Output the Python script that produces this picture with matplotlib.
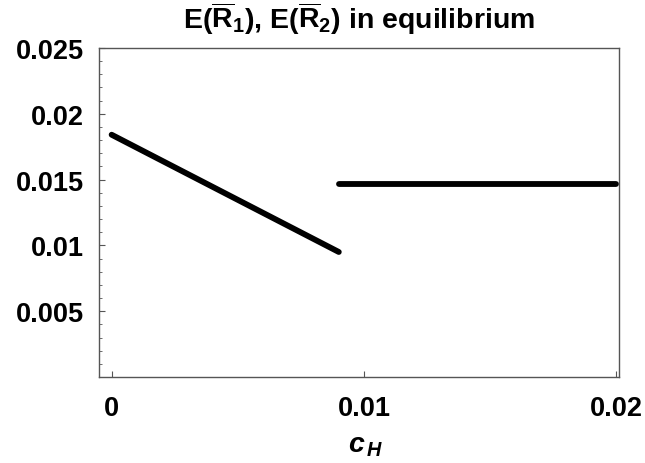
import matplotlib
matplotlib.use("Agg")
import matplotlib.pyplot as plt
from matplotlib.ticker import MultipleLocator, FixedLocator

# ==============================
# DATA
# ==============================
# branch 1: E(R1) for low c_H, branch 2: E(R2) above the switch point
branch1_c = [0.0, 0.009]
branch1_r = [0.01841, 0.0095]
branch2_c = [0.009, 0.02]
branch2_r = [0.01467, 0.01467]

x_ticks = [0.0, 0.01, 0.02]
x_tick_labels = ["0", "0.01", "0.02"]
y_ticks = [0.005, 0.01, 0.015, 0.02, 0.025]
y_tick_labels = ["0.005", "0.01", "0.015", "0.02", "0.025"]

title_text = r"E($\overline{\mathrm{R}}_{\mathrm{1}}$), E($\overline{\mathrm{R}}_{\mathrm{2}}$) in equilibrium"
xlabel_text = r"$c_{\,H}$"

# ==============================
# STYLE
# ==============================
plt.rcParams["font.family"] = ["Liberation Sans", "DejaVu Sans"]
plt.rcParams["font.weight"] = "bold"
plt.rcParams["mathtext.fontset"] = "custom"
plt.rcParams["mathtext.rm"] = "Liberation Sans:bold"
plt.rcParams["mathtext.it"] = "Liberation Sans:bold:italic"
plt.rcParams["mathtext.bf"] = "Liberation Sans:bold"

W, H = 645, 464
fig = plt.figure(figsize=(W / 100, H / 100), dpi=100)
ax = fig.add_axes([99 / W, 1 - 378 / H, (619 - 99) / W, (378 - 49) / H])

frame_col = "#555555"
for s in ax.spines.values():
    s.set_color(frame_col)
    s.set_linewidth(1.0)

ax.plot(branch1_c, branch1_r, color="black", lw=4.2, solid_capstyle="round")
ax.plot(branch2_c, branch2_r, color="black", lw=4.2, solid_capstyle="round")

ax.set_xlim(-0.0005, 0.0201)
ax.set_ylim(0, 0.025)

ax.xaxis.set_major_locator(FixedLocator(x_ticks))
ax.set_xticklabels(x_tick_labels)
ax.yaxis.set_major_locator(FixedLocator(y_ticks))
ax.set_yticklabels(y_tick_labels)
ax.yaxis.set_minor_locator(MultipleLocator(0.001))

ax.tick_params(axis="both", which="both", direction="in", color=frame_col,
               top=False, right=False, labelsize=19.5)
ax.tick_params(axis="both", which="major", length=4, width=0.8)
ax.tick_params(axis="y", which="minor", length=2.5, width=0.6)
ax.tick_params(axis="y", which="major", pad=11)
ax.tick_params(axis="x", which="major", pad=13)
for lab in ax.get_xticklabels() + ax.get_yticklabels():
    lab.set_fontweight("bold")

fig.text(359 / W, 1 - 29 / H, title_text, ha="center", va="baseline",
         fontsize=20.5, fontweight="bold")
fig.text(366 / W, 1 - 453 / H, xlabel_text, ha="center", va="baseline",
         fontsize=20.5)

fig.savefig("out.png", dpi=100)
